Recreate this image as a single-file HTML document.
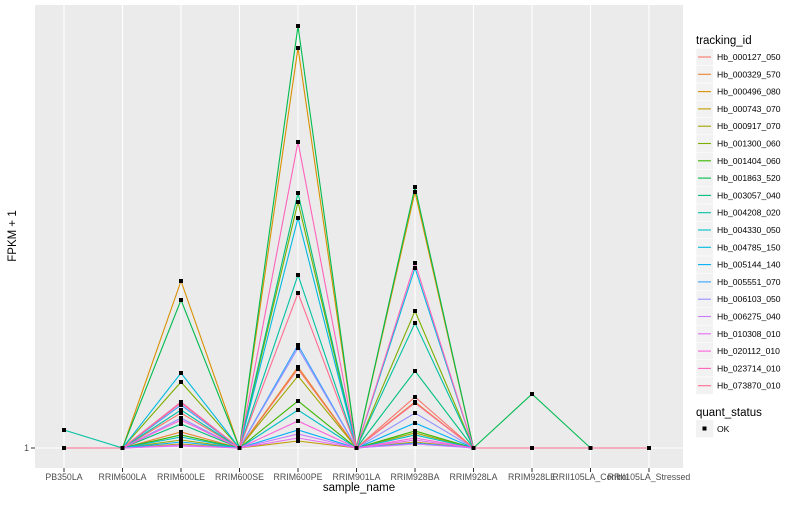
<!DOCTYPE html>
<html><head><meta charset="utf-8"><style>
body{margin:0;background:#fff;font-family:"Liberation Sans",sans-serif;}
svg text{font-family:"Liberation Sans",sans-serif;}
</style></head><body>
<svg id="chart" width="800" height="500">
<rect x="0" y="0" width="800" height="500" fill="#fff"/>
<rect x="35" y="5" width="648" height="463" fill="#EBEBEB"/>
<g id="grid"></g><g id="lines"></g><g id="pts"></g><g id="axes"></g><g id="legend"></g>
</svg>
<script>
const categories=["PB350LA","RRIM600LA","RRIM600LE","RRIM600SE","RRIM600PE","RRIM901LA","RRIM928BA","RRIM928LA","RRIM928LE","RRII105LA_Control","RRII105LA_Stressed"];
const seriesNames=["Hb_000127_050","Hb_000329_570","Hb_000496_080","Hb_000743_070","Hb_000917_070","Hb_001300_060","Hb_001404_060","Hb_001863_520","Hb_003057_040","Hb_004208_020","Hb_004330_050","Hb_004785_150","Hb_005144_140","Hb_005551_070","Hb_006103_050","Hb_006275_040","Hb_010308_010","Hb_020112_010","Hb_023714_010","Hb_073870_010"];
const colors=["#F8766D","#EA8331","#D89000","#C09B00","#A3A500","#7CAE00","#39B600","#00BB4E","#00BF7D","#00C1A3","#00BFC4","#00BAE0","#00B0F6","#35A2FF","#9590FF","#C77CFF","#E76BF3","#FA62DB","#FF62BC","#FF6C91"];
const s01=[1,1,9.75,1,20.75,1,13.75,1,1,1,1];
const s02=[1,1,5,1,21.25,1,12.5,1,1,1,1];
const s03=[1,1,42.75,1,101,1,65,1,1,1,1];
const s04=[1,1,2,1,2.75,1,2.5,1,1,1,1];
const s05=[1,1,3,1,19,1,4.75,1,1,1,1];
const s06=[1,1,17.5,1,62.5,1,35.25,1,1,1,1];
const s07=[1,1,4.25,1,12.75,1,5.25,1,1,1,1];
const s08=[1,1,38,1,106.5,1,66.25,1,14.5,1,1];
const s09=[1,1,7,1,64.75,1,20.25,1,1,1,1];
const s10=[5.5,1,10.5,1,44.25,1,32.25,1,1,1,1];
const s11=[1,1,3.75,1,10.5,1,4.25,1,1,1,1];
const s12=[1,1,19.75,1,58.5,1,46,1,1,1,1];
const s13=[1,1,2.5,1,5.5,1,7.25,1,1,1,1];
const s14=[1,1,11.75,1,26.75,1,2.25,1,1,1,1];
const s15=[1,1,8.5,1,26,1,9.75,1,1,1,1];
const s16=[1,1,1.75,1,4.5,1,2,1,1,1,1];
const s17=[1,1,1.5,1,3.5,1,3,1,1,1,1];
const s18=[1,1,8,1,7.75,1,3.5,1,1,1,1];
const s19=[1,1,12.5,1,77.5,1,47.25,1,1,1,1];
const s20=[1,1,12.25,1,39.75,1,12.25,1,1,1,1];
const seriesValues=[s01,s02,s03,s04,s05,s06,s07,s08,s09,s10,s11,s12,s13,s14,s15,s16,s17,s18,s19,s20];
const yTicks=[1];
const yTickLabels=["1"];

const NS="http://www.w3.org/2000/svg";
function mk(tag,attrs,parent){const e=document.createElementNS(NS,tag);for(const k in attrs)e.setAttribute(k,attrs[k]);parent.appendChild(e);return e;}
function xS(i){return 64+i*58.5;}
function yS(v){return 448-(v-1)*4;}
const grid=document.getElementById('grid'),lines=document.getElementById('lines'),pts=document.getElementById('pts'),axes=document.getElementById('axes'),legend=document.getElementById('legend');

yTicks.forEach((t,i)=>{
 const g=mk('line',{x1:35,x2:683,y1:yS(t),y2:yS(t),stroke:'#fff','stroke-width':1.1},grid);
 
 
 const tk=mk('line',{x1:31,x2:35,y1:yS(t),y2:yS(t),stroke:'#333','stroke-width':1},axes);
 
 
 const tl=mk('text',{x:29,y:yS(t)+3,'text-anchor':'end','font-size':8.8,fill:'#4D4D4D'},axes);
 tl.textContent=yTickLabels[i];
 
 
});
categories.forEach((c,i)=>{
 const g=mk('line',{x1:xS(i),x2:xS(i),y1:5,y2:468,stroke:'#fff','stroke-width':1.1},grid);
 
 
 const tk=mk('line',{x1:xS(i),x2:xS(i),y1:468,y2:472,stroke:'#333','stroke-width':1},axes);
 
 
 const tl=mk('text',{x:xS(i),y:480,'text-anchor':'middle','font-size':8.8,fill:'#4D4D4D'},axes);
 tl.textContent=c;
 
 
});
seriesValues.forEach((vals,si)=>{
 const d=vals.map((v,i)=>(i?'L':'M')+xS(i)+','+yS(v)).join(' ');
 const p=mk('path',{d:d,fill:'none',stroke:colors[si],'stroke-width':1.1},lines);
 
 
});
seriesValues.forEach((vals,si)=>{
 vals.forEach((v,i)=>{
  const r=mk('rect',{x:xS(i)-2,y:yS(v)-2,width:4,height:4,fill:'#000'},pts);
  
  
 });
});
const xt=mk('text',{x:359,y:491,'text-anchor':'middle','font-size':11.5,fill:'#000'},axes);
xt.textContent='sample_name';


const yt=mk('text',{x:16,y:236,'text-anchor':'middle','font-size':11.5,fill:'#000',transform:'rotate(-90 16 236)'},axes);
yt.textContent='FPKM + 1';



const lt=mk('text',{x:696,y:44,'font-size':11.5,fill:'#000'},legend);
lt.textContent='tracking_id';


seriesNames.forEach((n,i)=>{
 const cy=57+i*17.3;
 const bg=mk('rect',{x:696,y:cy-8.6,width:17.3,height:17.3,fill:'#F2F2F2',stroke:'#fff','stroke-width':0.5},legend);
 
 
 const l=mk('line',{x1:698,x2:711,y1:cy,y2:cy,stroke:colors[i],'stroke-width':1.1},legend);
 
 
 const t=mk('text',{x:717,y:cy+3,'font-size':8.6,fill:'#000'},legend);
 t.textContent=n;
 
 
});
const qt=mk('text',{x:696,y:416,'font-size':11.5,fill:'#000'},legend);
qt.textContent='quant_status';


const qb=mk('rect',{x:696,y:420,width:17.3,height:17.3,fill:'#F2F2F2'},legend);


const qp=mk('rect',{x:702.5,y:426.5,width:4,height:4,fill:'#000'},legend);


const qtx=mk('text',{x:717,y:432,'font-size':8.6,fill:'#000'},legend);
qtx.textContent='OK';


</script>
</body></html>
